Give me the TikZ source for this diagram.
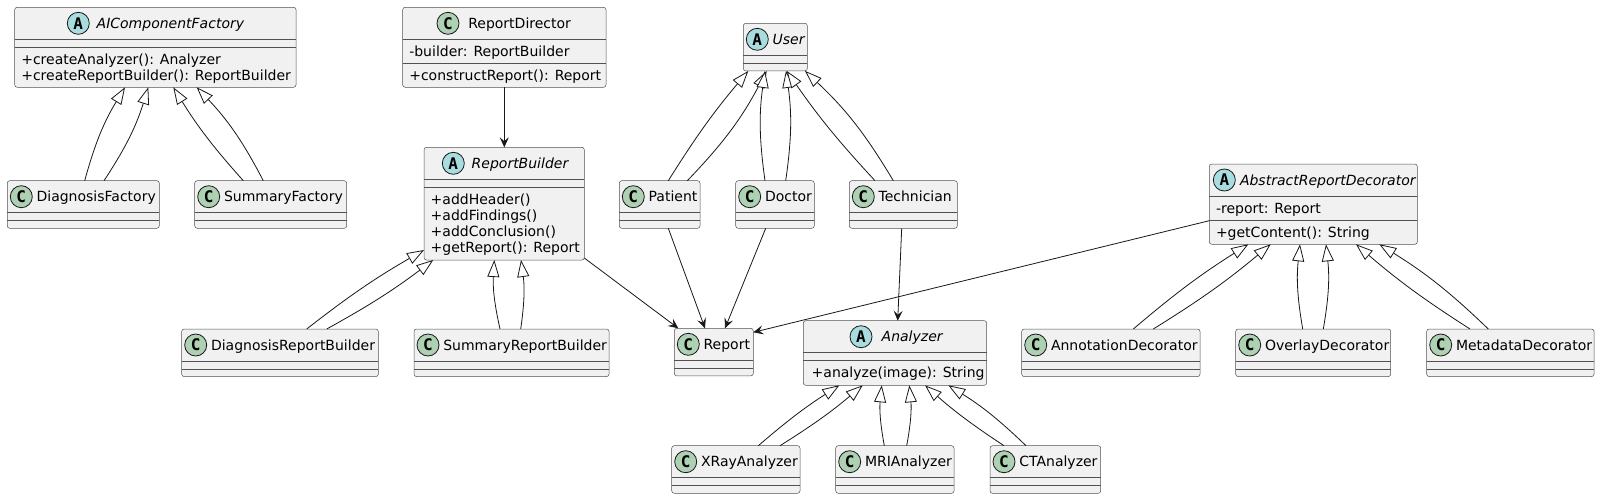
\documentclass[tikz,border=0pt]{standalone}
\usepackage{fontspec}
\setmainfont{DejaVu Sans}
\newfontfamily\circfont{DejaVu Sans Mono}
\usetikzlibrary{arrows.meta}
\definecolor{lineC}{HTML}{181818}
\definecolor{boxC}{HTML}{F1F1F1}
\definecolor{circC}{HTML}{ADD1B2}
\definecolor{circA}{HTML}{A9DCDF}
\tikzset{
 cls/.style={draw=lineC!75, fill=boxC, line width=0.5pt, rounded corners=2.5pt, inner sep=0pt, outer sep=0pt, anchor=north west},
 sep/.style={draw=lineC!75, line width=0.5pt},
 circ/.style={circle, draw=lineC, line width=0.8pt, minimum size=22pt, inner sep=0pt, font=\circfont\bfseries\fontsize{16pt}{16pt}\selectfont},
 txt/.style={anchor=base west, inner sep=0pt, outer sep=0pt, font=\fontsize{14pt}{16pt}\selectfont, text=black},
 inh/.style={draw=lineC, line width=0.8pt, -{Triangle[length=17pt,width=12pt,fill=white,line width=0.8pt]}},
 asc/.style={draw=lineC, line width=0.8pt, -{Stealth[length=10pt,width=9pt,inset=4pt]}},
}
% #1 font of name, #2 node, #3 x1, #4 y1, #5 x2, #6 letter, #7 label
\newcommand\umlcls[7][]{%
 \node[cls, minimum width={(#5-#3)*1pt}, minimum height=47.6pt] (#2) at (#3,-#4) {};
 \draw[sep] ([yshift=-32pt]#2.north west) -- ([yshift=-32pt]#2.north east);
 \draw[sep] ([yshift=-40pt]#2.north west) -- ([yshift=-40pt]#2.north east);
 \node[circ, fill=circ#6] (#2-c) at ([xshift=14pt,yshift=-16pt]#2.north west) {#6};
 \node[txt] (#2-n) at ([xshift=29.3pt,yshift=-21pt]#2.north west) {#1#7};
}
\begin{document}
\begin{tikzpicture}[x=1pt,y=1pt]
\fill[white] (0,0) rectangle (1600,-499);
\useasboundingbox (0,0) rectangle (1600,-499);

% AIComponentFactory
\node[cls, minimum width=281.3pt, minimum height=80pt] (aicf) at (14.7,-7.3) {};
\draw[sep] ([yshift=-32pt]aicf.north west) -- ([yshift=-32pt]aicf.north east);
\draw[sep] ([yshift=-40pt]aicf.north west) -- ([yshift=-40pt]aicf.north east);
\node[circ, fill=circA] (aicf-c) at (78.3,-23.3) {A};
\node[txt] (aicf-n) at (96.7,-28.3) {\itshape AIComponentFactory};
\node[txt] (aicf-m1) at (21.3,-64.3) {+createAnalyzer(): Analyzer};
\node[txt] (aicf-m2) at (21.3,-80.3) {+createReportBuilder(): ReportBuilder};

% ReportDirector
\node[cls, minimum width=203.3pt, minimum height=80pt] (rd) at (402.7,-7.3) {};
\draw[sep] ([yshift=-32pt]rd.north west) -- ([yshift=-32pt]rd.north east);
\draw[sep] ([yshift=-56pt]rd.north west) -- ([yshift=-56pt]rd.north east);
\node[circ, fill=circC] (rd-c) at (448,-23.3) {C};
\node[txt] (rd-n) at (468.3,-28.3) {ReportDirector};
\node[txt] (rd-a1) at (409.3,-56.3) {-builder: ReportBuilder};
\node[txt] (rd-m1) at (409.3,-80.3) {+constructReport(): Report};

% ReportBuilder
\node[cls, minimum width=160.3pt, minimum height=112.7pt] (rb) at (424,-147.3) {};
\draw[sep] ([yshift=-32pt]rb.north west) -- ([yshift=-32pt]rb.north east);
\draw[sep] ([yshift=-40pt]rb.north west) -- ([yshift=-40pt]rb.north east);
\node[circ, fill=circA] (rb-c) at (453.3,-163.3) {A};
\node[txt] (rb-n) at (471.7,-168.3) {\itshape ReportBuilder};
\node[txt] (rb-m1) at (430.7,-204.3) {+addHeader()};
\node[txt] (rb-m2) at (430.7,-220.3) {+addFindings()};
\node[txt] (rb-m3) at (430.7,-236.3) {+addConclusion()};
\node[txt] (rb-m4) at (430.7,-252.3) {+getReport(): Report};

% Analyzer
\node[cls, minimum width=183.4pt, minimum height=64.6pt] (ana) at (803.3,-320.7) {};
\draw[sep] ([yshift=-32pt]ana.north west) -- ([yshift=-32pt]ana.north east);
\draw[sep] ([yshift=-40pt]ana.north west) -- ([yshift=-40pt]ana.north east);
\node[circ, fill=circA] (ana-c) at (861,-336.7) {A};
\node[txt] (ana-n) at (881.7,-341.7) {\itshape Analyzer};
\node[txt] (ana-m1) at (811.7,-377.7) {+analyze(image): String};

% AbstractReportDecorator
\node[cls, minimum width=208pt, minimum height=80.3pt] (ard) at (1209.3,-164) {};
\draw[sep] ([yshift=-32pt]ard.north west) -- ([yshift=-32pt]ard.north east);
\draw[sep] ([yshift=-56.3pt]ard.north west) -- ([yshift=-56.3pt]ard.north east);
\node[circ, fill=circA] (ard-c) at (1224.3,-180) {A};
\node[txt] (ard-n) at (1240,-185) {\itshape AbstractReportDecorator};
\node[txt] (ard-a1) at (1216,-213) {-report: Report};
\node[txt] (ard-m1) at (1216,-237.3) {+getContent(): String};

% simple classes
\umlcls{df}{7.3}{180.7}{159.3}{C}{DiagnosisFactory}
\umlcls{sf}{194.7}{180.7}{346.7}{C}{SummaryFactory}
\umlcls{drb}{181.7}{329}{378.3}{C}{DiagnosisReportBuilder}
\umlcls{srb}{414}{329}{609}{C}{SummaryReportBuilder}
\umlcls[\itshape]{user}{743.3}{23.3}{807.3}{A}{User}
\umlcls{pat}{619.3}{180.7}{700}{C}{Patient}
\umlcls{doc}{735.7}{180.7}{814.3}{C}{Doctor}
\umlcls{tech}{849.3}{180.7}{957.3}{C}{Technician}
\umlcls{rep}{674.3}{328.3}{753.3}{C}{Report}
\umlcls{xray}{671.7}{445.7}{800}{C}{XRayAnalyzer}
\umlcls{mri}{835.7}{445.7}{954}{C}{MRIAnalyzer}
\umlcls{ct}{990}{445.7}{1100.7}{C}{CTAnalyzer}
\umlcls{ann}{1021.7}{329}{1200}{C}{AnnotationDecorator}
\umlcls{ovl}{1235.7}{329}{1390.7}{C}{OverlayDecorator}
\umlcls{meta}{1426.7}{329}{1594}{C}{MetadataDecorator}

% inheritance
\draw[inh] ([xshift=77.4pt]df.north west) to[bend left=8] ([xshift=110.3pt]aicf.south west);
\draw[inh] ([xshift=96.7pt]df.north west) to[bend right=8] ([xshift=133.6pt]aicf.south west);
\draw[inh] ([xshift=48.6pt]sf.north west) to[bend left=5] ([xshift=158.6pt]aicf.south west);
\draw[inh] ([xshift=68.6pt]sf.north west) to[bend right=8] ([xshift=182pt]aicf.south west);

\draw[inh] ([xshift=125pt]drb.north west) to[bend left=4] ([yshift=10pt]rb.south west);
\draw[inh] ([xshift=145pt]drb.north west) to[bend right=4] ([xshift=9.3pt]rb.south west);
\draw[inh] ([xshift=86pt]srb.north west) to[bend left=8] ([xshift=70.3pt]rb.south west);
\draw[inh] ([xshift=106.7pt]srb.north west) to[bend right=8] ([xshift=97pt]rb.south west);

\draw[inh] ([xshift=49pt]pat.north west) to[bend left=4] ([xshift=5pt]user.south west);
\draw[inh] ([xshift=68pt]pat.north west) to[bend right=8] ([xshift=23.4pt]user.south west);
\draw[inh] ([xshift=29.3pt]doc.north west) to[bend left=8] ([xshift=21.7pt]user.south west);
\draw[inh] ([xshift=50pt]doc.north west) to[bend right=8] ([xshift=42.7pt]user.south west);
\draw[inh] ([xshift=25.7pt]tech.north west) to[bend left=4] ([xshift=43.4pt]user.south west);
\draw[inh] ([xshift=44pt]tech.north west) to[bend right=8] ([xshift=61.7pt]user.south west);

\draw[inh] ([xshift=86.6pt]xray.north west) to[bend left=4] ([xshift=36pt]ana.south west);
\draw[inh] ([xshift=108.3pt]xray.north west) to[bend right=4] ([xshift=59.4pt]ana.south west);
\draw[inh] ([xshift=48.6pt]mri.north west) to[bend left=8] ([xshift=78.4pt]ana.south west);
\draw[inh] ([xshift=71pt]mri.north west) to[bend right=8] ([xshift=106pt]ana.south west);
\draw[inh] ([xshift=14pt]ct.north west) to[bend left=4] ([xshift=121.7pt]ana.south west);
\draw[inh] ([xshift=36pt]ct.north west) to[bend right=6] ([xshift=145pt]ana.south west);

\draw[inh] ([xshift=111.6pt]ann.north west) to[bend left=4] ([xshift=39pt]ard.south west);
\draw[inh] ([xshift=131.6pt]ann.north west) to[bend right=4] ([xshift=61.4pt]ard.south west);
\draw[inh] ([xshift=67pt]ovl.north west) to[bend left=8] ([xshift=90.7pt]ard.south west);
\draw[inh] ([xshift=87.6pt]ovl.north west) to[bend right=8] ([xshift=116.7pt]ard.south west);
\draw[inh] ([xshift=43.3pt]meta.north west) to[bend left=4] ([xshift=146.7pt]ard.south west);
\draw[inh] ([xshift=61.6pt]meta.north west) to[bend right=6] ([xshift=170pt]ard.south west);

% associations
\draw[asc] ([xshift=101.6pt]rd.south west) -- ([xshift=80.3pt]rb.north west);
\draw[asc] ([yshift=2pt]rb.south east) -- ([xshift=4pt]rep.north west);
\draw[asc] ([xshift=49pt]pat.south west) -- ([xshift=30.7pt]rep.north west);
\draw[asc] ([xshift=30pt]doc.south west) -- ([xshift=50.7pt]rep.north west);
\draw[asc] ([xshift=52.4pt]tech.south west) -- ([xshift=94.4pt]ana.north west);
\draw[asc] ([yshift=-56.7pt]ard.north west) -- ([yshift=-4pt]rep.north east);
\end{tikzpicture}
\end{document}
